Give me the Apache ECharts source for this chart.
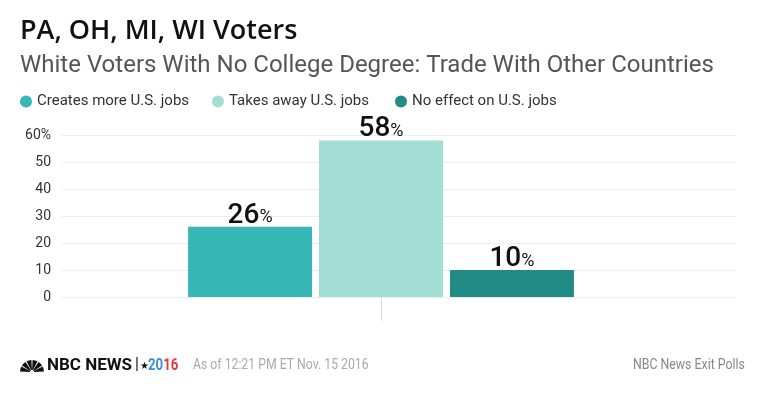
<!DOCTYPE html>
<html>
<head>
<meta charset="utf-8">
<script src="https://cdn.jsdelivr.net/npm/echarts@6/dist/echarts.min.js"></script>
<style>
  html, body { margin: 0; padding: 0; background: #fff; }
  #chart { width: 760px; height: 399px; }
</style>
</head>
<body>
<div id="chart"></div>
<script>
// 数据
const categories = ['White no degree']
const seriesNames = ['Creates more U.S. jobs', 'Takes away U.S. jobs', 'No effect on U.S. jobs']
const seriesValues = [26, 58, 10]
const seriesColors = ['#36b6b4', '#a3dfd5', '#228b86']
const yTicks = [0, 10, 20, 30, 40, 50, 60]

const chart = echarts.init(document.getElementById('chart'), null, { renderer: 'canvas' })
const font = 'Roboto, "Liberation Sans", sans-serif'

// 孔雀 logo, 用扇形拼
const feathers = []
for (let i = 0; i < 6; i++) {
    const a0 = Math.PI + i * Math.PI / 6 + 0.05
    feathers.push({
        type: 'sector',
        shape: { cx: 32, cy: 372, r: 12, r0: 2, startAngle: a0, endAngle: a0 + Math.PI / 6 - 0.1 },
        style: { fill: '#111' }
    })
}

// 每个图例单独摆放
const legendLefts = [15, 207, 390]
const legends = seriesNames.map((name, i) => ({
    data: [name],
    left: legendLefts[i], top: 89,
    icon: 'circle',
    itemWidth: 12, itemHeight: 12,
    itemGap: 0,
    textStyle: { fontSize: 15, color: '#333', fontFamily: font }
}))

const option = {
    backgroundColor: '#fff',
    textStyle: { fontFamily: font },
    title: [
        {
            text: 'PA, OH, MI, WI Voters',
            left: 15, top: 13,
            textStyle: { fontSize: 27, fontWeight: 600, color: '#111', fontFamily: '"Open Sans", ' + font }
        },
        {
            text: 'White Voters With No College Degree: Trade With Other Countries',
            left: 15, top: 49,
            textStyle: { fontSize: 24, fontWeight: 400, color: '#555', fontFamily: font }
        }
    ],
    legend: legends,
    grid: [
        { left: 62, right: 24, top: 135, bottom: 102 },
        { left: 26, right: 24, top: 135, bottom: 102 }
    ],
    xAxis: [
        { gridIndex: 0, type: 'category', data: categories, show: false },
        {
            gridIndex: 1, type: 'category', data: categories,
            axisLine: { show: false },
            axisTick: { show: true, alignWithLabel: true, length: 24, lineStyle: { color: '#ddd' } },
            axisLabel: { show: false }
        }
    ],
    yAxis: [
        {
            gridIndex: 0, type: 'value', min: yTicks[0], max: yTicks[yTicks.length - 1], interval: 10,
            axisLine: { show: false }, axisTick: { show: false },
            splitLine: { lineStyle: { color: '#ececec' } },
            axisLabel: {
                margin: 11, fontSize: 14, color: '#333', fontFamily: font,
                formatter: v => v === 60 ? '60%' : String(v)
            }
        },
        { gridIndex: 1, type: 'value', min: 0, max: 60, show: false }
    ],
    series: seriesNames.map((name, i) => ({
        name: name,
        type: 'bar',
        xAxisIndex: 1, yAxisIndex: 1,
        barWidth: 124,
        barGap: '5.6%',
        data: [seriesValues[i]],
        itemStyle: { color: seriesColors[i] },
        label: {
            show: true, position: 'top', distance: -3,
            formatter: '{n|{c}}{p|%}',
            rich: {
                n: { fontSize: 28, fontWeight: 500, color: '#111', fontFamily: font },
                p: { fontSize: 18, color: '#111', fontFamily: font, padding: [4, 0, 0, 0] }
            }
        }
    })),
    graphic: [
        ...feathers,
        {
            type: 'text', left: 47, top: 357,
            style: { text: 'NBC NEWS', fontSize: 17, fontWeight: 'bold', fill: '#111', fontFamily: font }
        },
        {
            type: 'text', left: 135, top: 357,
            style: { text: '|', fontSize: 16, fill: '#111', fontFamily: font }
        },
        {
            type: 'text', left: 140, top: 361,
            style: { text: '★', fontSize: 10, fill: '#111', fontFamily: font }
        },
        {
            type: 'text', left: 148, top: 357, scaleX: 0.78,
            style: {
                text: '{bl|20}{r|16}',
                rich: {
                    bl: { fontSize: 17, fontWeight: 'bold', fill: '#3a8fd6', fontFamily: font },
                    r: { fontSize: 17, fontWeight: 'bold', fill: '#e23b3f', fontFamily: font }
                }
            }
        },
        {
            type: 'text', left: 193, top: 358, scaleX: 0.875,
            style: { text: 'As of 12:21 PM ET Nov. 15 2016', fontSize: 14, fill: '#aaa', fontFamily: font }
        },
        {
            type: 'text', left: 633, top: 358, scaleX: 0.88,
            style: { text: 'NBC News Exit Polls', fontSize: 14, fill: '#888', fontFamily: font }
        }
    ]
}
chart.setOption(option)
</script>
</body>
</html>
